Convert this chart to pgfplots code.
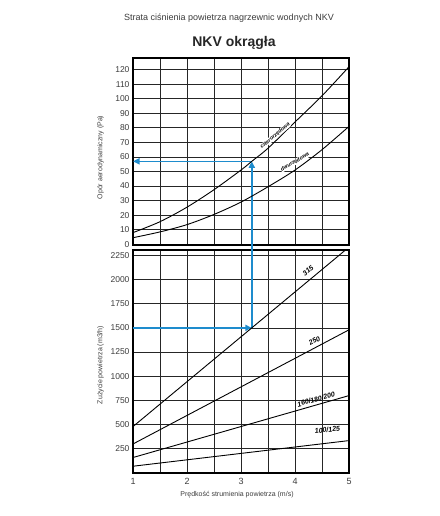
\documentclass[border=0pt]{standalone}
\usepackage{pgfplots}
\pgfplotsset{compat=1.18}
\usepackage{fontspec}
\setmainfont{Liberation Sans}
\usetikzlibrary{arrows.meta}
\definecolor{arrowblue}{RGB}{30,140,205}
\definecolor{txt}{RGB}{60,60,60}
\pgfplotstableread{
v p
1 8
1.5 15.5
2 25.5
2.5 37.5
3 51
3.2 57
3.5 66
4 84
4.5 102
5 122
}\fourrow
\pgfplotstableread{
v p
1 4.5
1.5 8.5
2 13.5
2.5 20.5
3 29
3.5 39.5
4 51
4.5 65
5 81
}\tworow
\pgfplotstableread{
v q315 q250 q160 q100
1 480 300 160 70
5 2335 1480 800 335
}\flows
\tikzset{
  lbl/.style={font=\fontsize{7}{8}\selectfont\bfseries\itshape, inner sep=0.3pt},
  clbl/.style={font=\fontsize{5.3}{6}\selectfont\bfseries\itshape, fill=white, inner sep=0.3pt},
  barrow/.style={arrowblue, line width=1.6pt},
}
\begin{document}
\begin{tikzpicture}[x=1pt,y=1pt]
\path[use as bounding box] (0,0) rectangle (439,516);
\pgfplotsset{
  nkv/.style={
    scale only axis, width=216pt,
    xmin=1, xmax=5,
    axis line style={line width=1.3pt},
    grid=both,
    major grid style={black!85, line width=0.75pt},
    minor grid style={black!85, line width=0.75pt},
    tick style={draw=none},
    minor tick length=0pt, major tick length=0pt,
    tick label style={font=\fontsize{8.5}{10}\selectfont, text=txt},
    /pgf/number format/assume math mode=true,
    /pgf/number format/1000 sep={},
  },
}
\node[text=txt, font=\fontsize{9}{11}\selectfont] at (229,498) {Strata ciśnienia powietrza nagrzewnic wodnych NKV};
\node[text=black!85, font=\fontsize{14}{16}\selectfont\bfseries] at (234,473) {NKV okrągła};
% top axis
\begin{axis}[nkv, height=187pt, at={(133pt,271pt)}, anchor=south west,
  ymin=-0.5, ymax=128,
  ytick={0,10,...,120},
  xtick={1,2,3,4,5}, minor xtick={1.5,2.5,3.5,4.5},
  xticklabels={}]
\draw[barrow, -{Triangle[length=6.5pt,width=6pt]}] (axis cs:3.2,-0.5) -- (axis cs:3.2,57);
\draw[barrow, -{Triangle[length=6.5pt,width=6pt]}] (axis cs:3.2,57) -- (axis cs:1,57);
\addplot[black, line width=0.9pt, smooth] table[x=v,y=p] {\fourrow};
\addplot[black, line width=0.9pt, smooth] table[x=v,y=p] {\tworow};
\node[rotate=40, clbl] at (axis cs:3.63,74.5) {czterorzędowa};
\node[rotate=30, clbl] at (axis cs:4.0,56.5) {dwurzędowa};
\end{axis}
% bottom axis
\begin{axis}[nkv, height=223pt, at={(133pt,43pt)}, anchor=south west,
  ymin=0, ymax=2305, clip=false,
  ytick={250,500,...,2250},
  xtick={1,2,3,4,5}, minor xtick={1.5,2.5,3.5,4.5},
  xticklabel style={yshift=-2pt, font=\fontsize{9}{10}\selectfont}]
\draw[barrow] (axis cs:3.2,1500) -- ([yshift=6pt]axis cs:3.2,2305);
\draw[barrow, -{Triangle[length=6.5pt,width=6pt]}] (axis cs:1,1500) -- (axis cs:3.2,1500);
\begin{scope}
\clip (axis cs:1,0) rectangle (axis cs:5,2305);
\addplot[black, line width=0.9pt] table[x=v,y=q315] {\flows};
\addplot[black, line width=0.9pt] table[x=v,y=q250] {\flows};
\addplot[black, line width=0.9pt] table[x=v,y=q160] {\flows};
\addplot[black, line width=0.9pt] table[x=v,y=q100] {\flows};
\end{scope}
\node[rotate=40, lbl] at (axis cs:4.24,2090) {315};
\node[rotate=28, lbl] at (axis cs:4.36,1365) {250};
\node[rotate=16, lbl] at (axis cs:4.39,762) {160/180/200};
\node[rotate=7, lbl] at (axis cs:4.6,445) {100/125};
\end{axis}
\node[rotate=90, text=txt, font=\fontsize{7}{8}\selectfont] at (100.5,358.5) {Opór aerodynamiczny (Pa)};
\node[rotate=90, text=txt, font=\fontsize{7}{8}\selectfont] at (100.5,151) {Zużycie powietrza (m3/h)};
\node[text=txt, font=\fontsize{7}{8}\selectfont] at (237,21) {Prędkość strumienia powietrza (m/s)};
\end{tikzpicture}
\end{document}
